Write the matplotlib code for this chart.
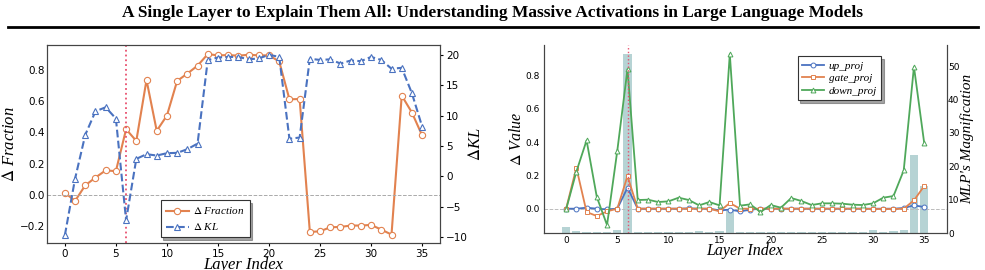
import matplotlib
matplotlib.use("Agg")
import matplotlib.pyplot as plt
import numpy as np

plt.rcParams['mathtext.fontset'] = 'stix'

layers = list(range(36))

delta_fraction = [0.013, -0.04, 0.06, 0.11, 0.156, 0.151, 0.42, 0.345, 0.736, 0.41,
                  0.508, 0.73, 0.777, 0.828, 0.902, 0.894, 0.896, 0.892, 0.898, 0.894,
                  0.894, 0.855, 0.612, 0.614, -0.239, -0.235, -0.209, -0.207, -0.198, -0.198,
                  -0.194, -0.224, -0.256, 0.636, 0.527, 0.38]

delta_kl = [-9.73, -0.4, 6.84, 10.73, 11.39, 9.53, -7.26, 2.88, 3.65, 3.43,
            3.82, 3.87, 4.47, 5.4, 19.18, 19.6, 19.7, 19.7, 19.3, 19.45,
            20.05, 19.7, 6.2, 6.4, 19.4, 19.2, 19.3, 18.6, 19.1, 19.0,
            19.7, 19.2, 17.75, 17.9, 13.7, 8.2]

up_proj = [0.0, 0.0, 0.006, 0.0, -0.004, 0.0, 0.126, 0.0, 0.0, 0.0,
           0.0, 0.0, 0.002, 0.0, 0.0, -0.01, -0.006, -0.016, -0.006, 0.0,
           0.0, 0.0, 0.0, 0.0, 0.0, 0.0, 0.0, 0.0, 0.0, 0.0,
           0.0, 0.0, 0.0, 0.004, 0.02, 0.01]

gate_proj = [0.0, 0.246, -0.02, -0.044, -0.016, 0.0, 0.196, 0.0, 0.0, 0.0,
             0.0, 0.0, 0.0, 0.0, 0.0, -0.016, 0.034, 0.0, 0.0, 0.0,
             0.0, 0.0, 0.0, 0.0, 0.0, 0.0, 0.0, 0.0, 0.0, 0.0,
             -0.002, -0.002, -0.002, 0.0, 0.05, 0.136]

down_proj = [-0.004, 0.222, 0.41, 0.07, -0.098, 0.347, 0.838, 0.052, 0.054, 0.04,
             0.044, 0.066, 0.052, 0.02, 0.04, 0.02, 0.928, 0.018, 0.026, -0.02,
             0.022, 0.006, 0.064, 0.046, 0.022, 0.032, 0.032, 0.03, 0.024, 0.022,
             0.032, 0.066, 0.076, 0.23, 0.852, 0.395]

mlp_magnification = [1.9, 0.7, 0.2, 0.2, 0.2, 1.0, 53.6, 0.4, 0.4, 0.4,
                     0.4, 0.4, 0.4, 0.7, 0.4, 0.7, 6.7, 0.4, 0.4, 0.4,
                     0.4, 0.4, 0.4, 0.4, 0.4, 0.4, 0.4, 0.4, 0.4, 0.4,
                     0.9, 0.4, 0.7, 1.0, 23.3, 14.0]

title = "A Single Layer to Explain Them All: Understanding Massive Activations in Large Language Models"

c_orange = "#e2824f"
c_blue = "#4a72c0"
c_green = "#4fa85a"
c_vline = "#e8506e"
spine_c = "#444444"

fig = plt.figure(figsize=(9.85, 2.70), dpi=100)

fig.text(0.5, 0.953, title, ha='center', va='center', fontsize=12.5,
         fontweight='bold', family='Liberation Serif')
fig.add_artist(plt.Line2D([0.008, 0.993], [0.9, 0.9], color='black', lw=2,
                          transform=fig.transFigure))

serif = 'Liberation Serif'

# ---------------- Left panel ----------------
ax1 = fig.add_axes([0.0477, 0.10, 0.399, 0.733])
l1, = ax1.plot(layers, delta_fraction, '-', color=c_orange, lw=1.5, marker='o',
               ms=4.5, mfc='white', mec=c_orange, mew=0.8, label=r"$\Delta$ Fraction")
ax1.axhline(0, color='#aaaaaa', lw=0.7, ls='--')
ax1.axvline(6, color=c_vline, lw=1.3, ls=':')
ax1.set_ylim(-0.31, 0.96)
ax1.set_xticks([0, 5, 10, 15, 20, 25, 30, 35])
ax1.tick_params(axis='y', labelsize=7.5, length=0, pad=1.5)
ax1.tick_params(axis='x', labelsize=7.5, length=2, pad=2)
ax1.set_xlabel("Layer Index", fontsize=12, family=serif, style='italic', labelpad=-1)
ax1.set_ylabel(r"$\Delta$ Fraction", fontsize=12, family=serif, style='italic', labelpad=1)
for s in ax1.spines.values():
    s.set_color(spine_c)

ax1b = ax1.twinx()
l2, = ax1b.plot(layers, delta_kl, '--', color=c_blue, lw=1.5, marker='^',
                ms=4.5, mfc='white', mec=c_blue, mew=0.8, label=r"$\Delta$ KL")
ax1b.set_ylim(-11, 21.65)
ax1b.set_yticks([-10, -5, 0, 5, 10, 15, 20])
ax1b.tick_params(labelsize=7.5, length=2.5, pad=2)
ax1b.set_ylabel(r"$\Delta$KL", fontsize=12, family=serif, style='italic', labelpad=0)
for s in ax1b.spines.values():
    s.set_color(spine_c)

leg1 = ax1.legend(handles=[l1, l2], loc='lower left', bbox_to_anchor=(0.275, 0.0),
                  fancybox=False, shadow=True, edgecolor='#333333', framealpha=1,
                  prop={'family': serif, 'style': 'italic', 'size': 8},
                  handlelength=2.1, borderpad=0.45, labelspacing=0.45, handletextpad=0.4)
leg1.get_frame().set_linewidth(0.8)

# ---------------- Right panel ----------------
ax2 = fig.add_axes([0.552, 0.137, 0.409, 0.696])
ax2b = ax2.twinx()
ax2.set_zorder(ax2b.get_zorder() + 1)
ax2.patch.set_visible(False)

ax2b.bar(layers, mlp_magnification, width=0.8, color='cadetblue', alpha=0.45, zorder=1)
ax2b.set_ylim(0, 56.3)
ax2b.set_yticks([0, 10, 20, 30, 40, 50])
ax2b.tick_params(labelsize=6.5, length=0, pad=1)
ax2b.set_ylabel("MLP's Magnification", fontsize=11, family=serif, style='italic', labelpad=1)

h1, = ax2.plot(layers, up_proj, '-', color=c_blue, lw=1.3, marker='o', ms=3.5,
               mfc='white', mec=c_blue, mew=0.7, label='up_proj')
h2, = ax2.plot(layers, gate_proj, '-', color=c_orange, lw=1.3, marker='s', ms=3.5,
               mfc='white', mec=c_orange, mew=0.7, label='gate_proj')
h3, = ax2.plot(layers, down_proj, '-', color=c_green, lw=1.3, marker='^', ms=3.5,
               mfc='white', mec=c_green, mew=0.7, label='down_proj')
ax2.axhline(0, color='#bbbbbb', lw=0.7, ls='--', zorder=0)
ax2.axvline(6, color=c_vline, lw=1.0, ls=':')
ax2.set_ylim(-0.146, 0.982)
ax2.set_xticks([0, 5, 10, 15, 20, 25, 30, 35])
ax2.set_yticks([0.0, 0.2, 0.4, 0.6, 0.8])
ax2.tick_params(axis='y', labelsize=6.5, length=0, pad=3)
ax2.tick_params(axis='x', labelsize=6.5, length=0, pad=2)
ax2.set_xlabel("Layer Index", fontsize=11.5, family=serif, style='italic', labelpad=-1)
ax2.set_ylabel(r"$\Delta$ Value", fontsize=11.5, family=serif, style='italic', labelpad=0)

for a in (ax2, ax2b):
    a.spines['top'].set_visible(False)
    for s in a.spines.values():
        s.set_color(spine_c)

leg2 = ax2.legend(handles=[h1, h2, h3], loc='upper right', bbox_to_anchor=(0.852, 0.97),
                  fancybox=False, shadow=True, edgecolor='#333333', framealpha=1,
                  prop={'family': serif, 'style': 'italic', 'size': 8},
                  handlelength=2.0, borderpad=0.4, labelspacing=0.25, handletextpad=0.4)
leg2.get_frame().set_linewidth(0.8)

fig.savefig("out.png", dpi=100)
